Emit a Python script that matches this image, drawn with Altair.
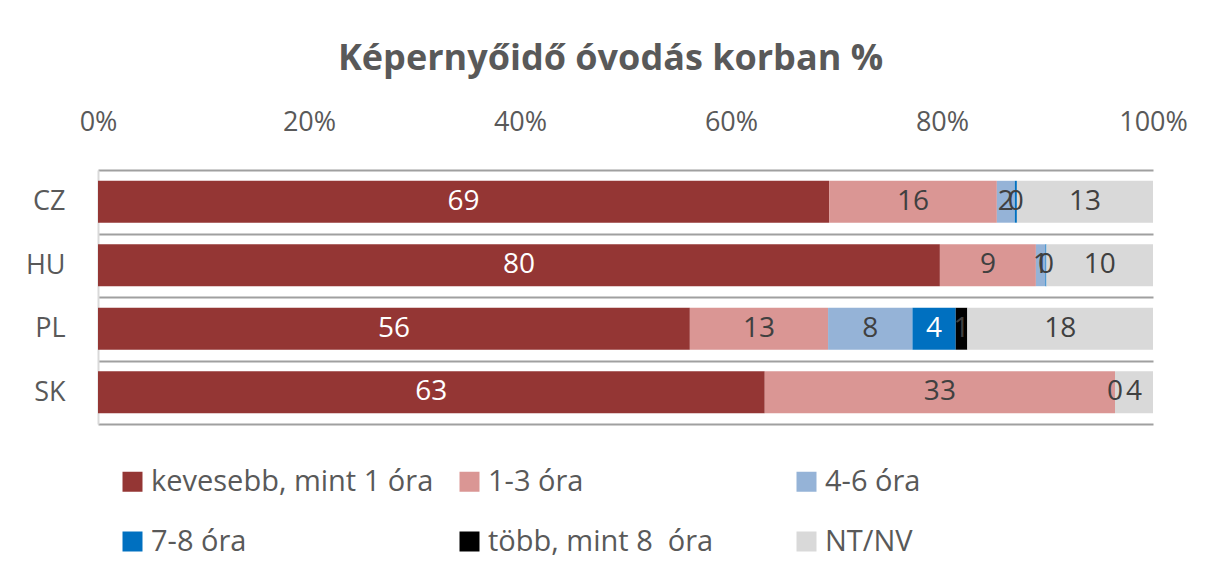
import altair as alt
import pandas as pd

countries = ["CZ", "HU", "PL", "SK"]
categories = ["kevesebb, mint 1 óra", "1-3 óra", "4-6 óra", "7-8 óra",
              "több, mint 8\u00a0 óra", "NT/NV"]
colors = ["#943634", "#DA9694", "#95B3D7", "#0070C0", "#000000", "#D9D9D9"]

less_1 = [69.3, 79.8, 56.1, 63.2]
h1_3 = [15.9, 9.1, 13.1, 33.2]
h4_6 = [1.7, 0.9, 8.0, 0.0]
h7_8 = [0.2, 0.1, 4.1, None]
more_8 = [None, None, 1.1, None]
nt_nv = [12.9, 10.1, 17.6, 3.6]

series = [less_1, h1_3, h4_6, h7_8, more_8, nt_nv]
rows = []
for ci, cat in enumerate(categories):
    for k, c in enumerate(countries):
        v = series[ci][k]
        if v is not None:
            rows.append({"country": c, "category": cat, "idx": ci, "value": v})
df = pd.DataFrame(rows)

FONT = "Open Sans"
GREY = "#595959"

base = alt.Chart(df).transform_stack(
    stack="value", as_=["x0", "x1"], groupby=["country"], sort=[alt.SortField("idx")]
).transform_calculate(mid="(datum.x0 + datum.x1) / 2")

yenc = alt.Y("country:N", sort=countries, title=None,
             scale=alt.Scale(paddingInner=0, paddingOuter=0),
             axis=alt.Axis(labelFont=FONT, labelFontSize=27, labelColor=GREY,
                           labelPadding=33, ticks=False, domainColor="#D9D9D9",
                           domainWidth=2, grid=True, gridColor="#A0A0A0",
                           gridWidth=2, tickBand="extent"))

bars = base.mark_bar(height=alt.RelativeBandSize(0.66)).encode(
    x=alt.X("x0:Q", scale=alt.Scale(domain=[0, 100], nice=False), title=None,
            axis=alt.Axis(orient="top", values=[0, 20, 40, 60, 80, 100],
                          labelExpr="datum.value + '%'", labelFont=FONT,
                          labelFontSize=27, labelColor=GREY, labelPadding=34,
                          labelFlush=False, ticks=False, domain=False, grid=False)),
    x2="x1:Q",
    y=yenc,
    color=alt.Color("category:N", scale=alt.Scale(domain=categories, range=colors),
                    legend=alt.Legend(orient="none", legendX=20, legendY=297,
                                      padding=0, direction="horizontal", columns=3,
                                      gridAlign="all", symbolType="square",
                                      symbolSize=400, symbolStrokeWidth=0,
                                      labelFont=FONT, labelFontSize=29,
                                      labelColor=GREY, labelLimit=600,
                                      labelOffset=4, columnPadding=21,
                                      rowPadding=30, title=None)),
)

labels = base.mark_text(font=FONT, fontSize=28).encode(
    x=alt.X("mid:Q"),
    y=alt.Y("country:N", sort=countries),
    text=alt.Text("value:Q", format=".0f"),
    color=alt.condition(
        "datum.category == 'kevesebb, mint 1 óra' || (datum.category == '7-8 óra' && datum.value >= 1)",
        alt.value("white"), alt.value("#404040")),
)

chart = alt.layer(bars, labels).properties(
    width=1055, height=254,
    padding={"left": 90, "top": 162, "right": 52, "bottom": 147},
    autosize=alt.AutoSizeParams(type="none"),
    title=alt.TitleParams("Képernyőidő óvodás korban %", font=FONT, fontSize=36,
                          fontWeight="bold", color=GREY, anchor="middle",
                          offset=30, dx=-15),
).configure_view(stroke=None)

chart.save("out.html", embed_options={"renderer": "svg", "actions": False})
